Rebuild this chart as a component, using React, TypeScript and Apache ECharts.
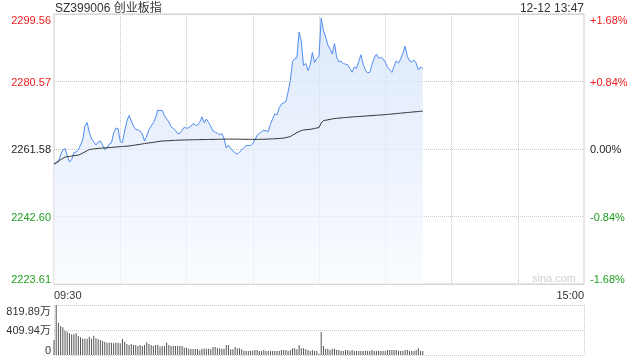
import React, { useEffect, useRef } from "react";
import * as echarts from "echarts";

const title = "SZ399006 创业板指";
const timeStamp = "12-12 13:47";
const priceLabels = ["2223.61", "2242.60", "2261.58", "2280.57", "2299.56"];
const pctLabels = ["-1.68%", "-0.84%", "0.00%", "+0.84%", "+1.68%"];
const labelColors = ["#1f9e1f", "#1f9e1f", "#222222", "#f01c1c", "#f01c1c"];
const volLabels = ["0", "409.94万", "819.89万"];
const priceMin = 2223.61;
const priceMax = 2299.56;
const volMax = 819.89;

const price = [
  2257.36, 2257.64, 2257.92, 2259.89, 2261.3, 2261.72, 2259.75, 2257.92, 2258.63, 2260.6,
  2260.74, 2261.3, 2262.71, 2264.11, 2268.05, 2269.03, 2266.22, 2264.39, 2263.55, 2262.71,
  2263.55, 2263.83, 2262.71, 2261.44, 2261.86, 2262.99, 2263.27, 2266.08, 2267.4, 2267.4,
  2263.69, 2263.41, 2266.64, 2269.46, 2271.0, 2269.46, 2268.05, 2267.09, 2266.98, 2266.64,
  2265.8, 2263.83, 2265.24, 2267.04, 2267.99, 2269.03, 2270.3, 2272.55, 2272.35, 2272.47,
  2271.0, 2270.02, 2269.18, 2267.85, 2267.35, 2266.78, 2265.91, 2265.97, 2266.84, 2267.71,
  2267.43, 2267.57, 2267.99, 2268.75, 2268.33, 2268.27, 2269.12, 2270.64, 2268.95, 2270.02,
  2269.09, 2267.91, 2266.64, 2266.31, 2266.0, 2265.57, 2265.94, 2264.59, 2261.86, 2262.65,
  2261.72, 2261.02, 2260.51, 2260.17, 2260.71, 2261.3, 2261.97, 2262.54, 2262.56, 2262.54,
  2263.07, 2264.17, 2265.46, 2266.0, 2266.45, 2266.87, 2266.7, 2266.45, 2268.53, 2270.05,
  2271.48, 2271.2, 2273.2, 2274.21, 2274.58, 2274.89, 2277.61, 2280.79, 2286.14, 2287.04,
  2287.32, 2294.49, 2291.79, 2285.1, 2285.66, 2283.66, 2285.18, 2288.7, 2285.91, 2287.04,
  2287.71, 2298.46, 2294.98, 2293.09, 2290.86, 2289.71, 2288.33, 2291.26, 2287.4, 2286.11,
  2286.28, 2285.6, 2285.46, 2285.24, 2284.25, 2283.18, 2284.67, 2284.31, 2286.28, 2288.08,
  2285.43, 2283.77, 2283.02, 2283.16, 2285.35, 2287.18, 2288.28, 2287.12, 2287.37, 2286.98,
  2286.05, 2284.67, 2283.86, 2283.13, 2284.84, 2286.33, 2285.77, 2286.95, 2288.58, 2290.5,
  2287.6, 2286.39, 2286.11, 2286.59, 2285.74, 2283.86, 2284.62, 2284.28,
];

const avgPrice = [
  2257.36, 2257.78, 2258.18, 2258.6, 2258.96, 2259.33, 2259.41, 2259.5, 2259.61, 2259.7,
  2259.78, 2259.86, 2260.12, 2260.43, 2260.76, 2261.13, 2261.44, 2261.52, 2261.61, 2261.69,
  2261.76, 2261.8, 2261.86, 2261.91, 2261.94, 2262.0, 2262.04, 2262.09, 2262.14, 2262.18,
  2262.23, 2262.28, 2262.34, 2262.38, 2262.42, 2262.54, 2262.62, 2262.72, 2262.82, 2262.9,
  2263.01, 2263.1, 2263.2, 2263.3, 2263.38, 2263.46, 2263.56, 2263.66, 2263.75, 2263.83,
  2263.86, 2263.89, 2263.91, 2263.96, 2264.0, 2264.03, 2264.06, 2264.08, 2264.11, 2264.13,
  2264.14, 2264.16, 2264.17, 2264.18, 2264.19, 2264.2, 2264.22, 2264.23, 2264.24, 2264.25,
  2264.27, 2264.28, 2264.29, 2264.3, 2264.32, 2264.33, 2264.34, 2264.35, 2264.36, 2264.37,
  2264.38, 2264.37, 2264.36, 2264.35, 2264.34, 2264.33, 2264.32, 2264.31, 2264.31, 2264.3,
  2264.3, 2264.3, 2264.3, 2264.3, 2264.31, 2264.32, 2264.35, 2264.38, 2264.41, 2264.44,
  2264.47, 2264.51, 2264.55, 2264.59, 2264.65, 2264.79, 2264.93, 2265.1, 2265.46, 2265.83,
  2266.19, 2266.5, 2266.76, 2266.95, 2267.01, 2267.07, 2267.12, 2267.23, 2267.37, 2267.49,
  2267.63, 2268.89, 2269.57, 2269.68, 2269.79, 2269.93, 2270.05, 2270.16, 2270.22, 2270.27,
  2270.33, 2270.38, 2270.44, 2270.5, 2270.55, 2270.6, 2270.64, 2270.68, 2270.72, 2270.77,
  2270.81, 2270.86, 2270.89, 2270.94, 2270.99, 2271.03, 2271.07, 2271.12, 2271.14, 2271.2,
  2271.26, 2271.31, 2271.37, 2271.43, 2271.48, 2271.55, 2271.61, 2271.66, 2271.74, 2271.79,
  2271.85, 2271.9, 2271.96, 2272.02, 2272.07, 2272.13, 2272.19, 2272.24,
];

const volume = [
  246, 819.89, 530, 476, 454, 399, 383, 355, 339, 339,
  355, 312, 290, 268, 268, 268, 301, 268, 317, 273,
  257, 246, 230, 219, 202, 202, 202, 191, 202, 202,
  191, 263, 219, 180, 164, 180, 164, 164, 148, 164,
  148, 164, 208, 180, 164, 148, 164, 164, 137, 148,
  148, 202, 164, 148, 148, 148, 148, 148, 148, 120,
  120, 104, 98, 100, 98, 100, 77, 104, 104, 104,
  104, 93, 131, 131, 109, 109, 104, 104, 164, 164,
  93, 93, 131, 109, 109, 93, 70, 70, 66, 70,
  70, 82, 82, 66, 66, 82, 66, 66, 66, 66,
  66, 66, 66, 82, 82, 82, 66, 82, 109, 109,
  93, 164, 109, 109, 93, 82, 66, 82, 66, 66,
  22, 377, 148, 104, 104, 82, 104, 104, 82, 82,
  66, 66, 82, 82, 66, 82, 66, 66, 66, 66,
  66, 66, 66, 66, 82, 66, 66, 66, 66, 66,
  66, 82, 82, 82, 82, 82, 66, 66, 66, 82,
  82, 66, 66, 66, 82, 109, 66, 66,
];

// trading-minute categories 09:30–11:30, 13:01–15:00
const times: string[] = [];
const pad = (n: number) => (n < 10 ? "0" + n : "" + n);
for (let m = 9 * 60 + 30; m <= 11 * 60 + 30; m++) times.push(pad(Math.floor(m / 60)) + ":" + pad(m % 60));
for (let m = 13 * 60 + 1; m <= 15 * 60; m++) times.push(pad(Math.floor(m / 60)) + ":" + pad(m % 60));
const lastIdx = times.length - 1;

const FONT = "'Liberation Sans', Arial, 'Noto Sans CJK SC', sans-serif";

export default function App() {
  const ref = useRef<HTMLDivElement>(null);
  useEffect(() => {
    if (!ref.current) return;
    const chart = echarts.init(ref.current, undefined, { renderer: "svg" });
    const dotted = { type: "dotted" as const, color: "#c8c8c8", width: 1 };
    chart.setOption({
      animation: false,
      textStyle: { fontFamily: FONT },
      graphic: [
        { type: "text", left: 55, top: 2, style: { text: title, fontSize: 12, fill: "#333", fontFamily: FONT } },
        { type: "text", right: 56, top: 2, style: { text: timeStamp, fontSize: 12, fill: "#333", fontFamily: FONT } },
        { type: "text", right: 64, top: 272, style: { text: "sina.com", fontSize: 11, fill: "#cfcfcf", fontFamily: FONT } },
      ],
      grid: [
        { left: 54, top: 14, width: 530, height: 270, show: true, borderColor: "#cccccc", borderWidth: 1, backgroundColor: "transparent" },
        { left: 54, top: 305, width: 530, height: 50 },
      ],
      xAxis: [
        {
          type: "category",
          gridIndex: 0,
          data: times,
          boundaryGap: false,
          axisLine: { show: false },
          axisTick: { show: false },
          axisLabel: {
            interval: (i: number) => i === 0 || i === lastIdx,
            alignMinLabel: "left",
            alignMaxLabel: "right",
            margin: 5,
            fontSize: 11,
            color: "#333",
            fontFamily: FONT,
          },
          splitLine: { show: true, interval: (i: number) => i % 30 === 0 && i !== 0 && i !== lastIdx, lineStyle: dotted },
        },
        {
          type: "category",
          gridIndex: 1,
          data: times,
          boundaryGap: false,
          axisLine: { show: false },
          axisTick: { show: false },
          axisLabel: { show: false },
          splitLine: { show: true, interval: (i: number) => i === 0 || i === lastIdx, lineStyle: dotted },
        },
      ],
      yAxis: [
        {
          type: "value",
          gridIndex: 0,
          position: "left",
          min: -2,
          max: 2,
          interval: 1,
          axisLine: { show: false },
          axisTick: { show: false },
          axisLabel: {
            formatter: (v: number) => priceLabels[Math.round(v) + 2],
            color: (v: number) => labelColors[Math.round(v) + 2],
            fontSize: 11,
            margin: 3,
            fontFamily: FONT,
            verticalAlignMinLabel: "bottom",
            verticalAlignMaxLabel: "top",
          },
          splitLine: { show: true, lineStyle: dotted },
        },
        {
          type: "value",
          gridIndex: 0,
          position: "right",
          min: -2,
          max: 2,
          interval: 1,
          axisLine: { show: false },
          axisTick: { show: false },
          axisLabel: {
            formatter: (v: number) => pctLabels[Math.round(v) + 2],
            color: (v: number) => labelColors[Math.round(v) + 2],
            fontSize: 11,
            margin: 6,
            fontFamily: FONT,
            verticalAlignMinLabel: "bottom",
            verticalAlignMaxLabel: "top",
          },
          splitLine: { show: false },
        },
        {
          type: "value",
          gridIndex: 0,
          min: priceMin,
          max: priceMax,
          show: false,
          splitLine: { show: false },
        },
        {
          type: "value",
          gridIndex: 1,
          position: "left",
          min: 0,
          max: volMax,
          interval: volMax / 2,
          axisLine: { show: false },
          axisTick: { show: false },
          axisLabel: {
            formatter: (v: number) => volLabels[Math.round(v / (volMax / 2))],
            color: "#333",
            fontSize: 11,
            margin: 3,
            fontFamily: FONT,
            verticalAlignMinLabel: "bottom",
            verticalAlignMaxLabel: "top",
          },
          splitLine: { show: true, lineStyle: dotted },
        },
      ],
      series: [
        {
          type: "line",
          name: "price",
          xAxisIndex: 0,
          yAxisIndex: 2,
          data: price,
          showSymbol: false,
          lineStyle: { color: "#4f8cf0", width: 1 },
          areaStyle: {
            origin: "start",
            color: new echarts.graphic.LinearGradient(0, 0, 0, 1, [
              { offset: 0, color: "#d0e0f9" },
              { offset: 1, color: "#f7faff" },
            ]),
          },
          z: 2,
        },
        {
          type: "line",
          name: "avg",
          xAxisIndex: 0,
          yAxisIndex: 2,
          data: avgPrice,
          showSymbol: false,
          lineStyle: { color: "#333333", width: 1 },
          z: 3,
        },
        {
          type: "bar",
          name: "volume",
          xAxisIndex: 1,
          yAxisIndex: 3,
          data: volume,
          barWidth: 1,
          itemStyle: { color: "#555555" },
        },
      ],
    });
    return () => chart.dispose();
  }, []);
  return <div ref={ref} style={{ position: "fixed", left: 0, top: 0, width: 640, height: 360 }} />;
}
